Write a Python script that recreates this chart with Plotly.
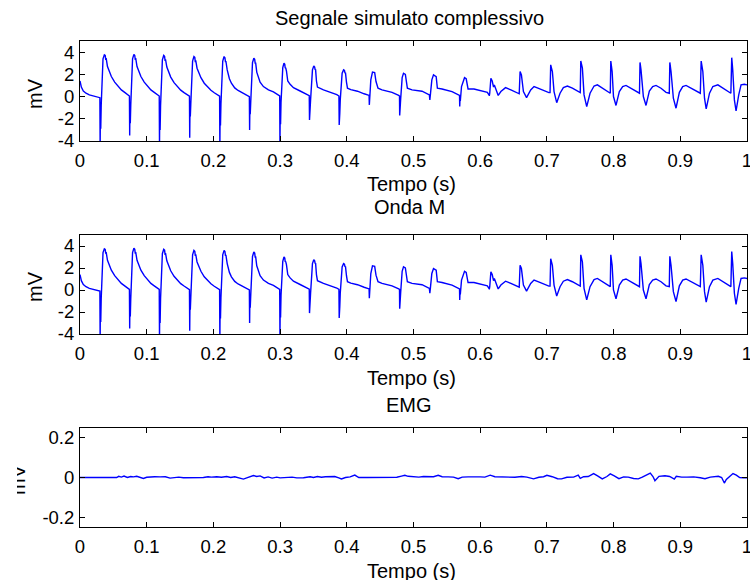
import plotly.graph_objects as go

# ---------------------------------------------------------------------------
# Simulated M wave (mV), polyline vertices, one beat per line
# ---------------------------------------------------------------------------
mwave_t = [
    0.0000, 0.0020, 0.0050, 0.0090, 0.0140, 0.0200, 0.0260, 0.0298,
    0.0302, 0.0306, 0.0311, 0.0318, 0.0345, 0.0365, 0.0378, 0.0386, 0.0392, 0.0412, 0.0445, 0.0470, 0.0520, 0.0570, 0.0620, 0.0670, 0.0720, 0.0741,
    0.0745, 0.0749, 0.0754, 0.0761, 0.0788, 0.0808, 0.0821, 0.0829, 0.0835, 0.0855, 0.0888, 0.0913, 0.0963, 0.1013, 0.1063, 0.1113, 0.1163, 0.1188,
    0.1192, 0.1196, 0.1201, 0.1208, 0.1235, 0.1255, 0.1268, 0.1276, 0.1282, 0.1302, 0.1335, 0.1360, 0.1410, 0.1460, 0.1510, 0.1560, 0.1610, 0.1641,
    0.1645, 0.1649, 0.1654, 0.1661, 0.1688, 0.1708, 0.1721, 0.1729, 0.1735, 0.1755, 0.1788, 0.1813, 0.1863, 0.1913, 0.1963, 0.2013, 0.2063, 0.2093,
    0.2097, 0.2101, 0.2106, 0.2113, 0.2140, 0.2160, 0.2173, 0.2181, 0.2187, 0.2207, 0.2240, 0.2270, 0.2320, 0.2370, 0.2420, 0.2470, 0.2515, 0.2539,
    0.2543, 0.2547, 0.2552, 0.2559, 0.2586, 0.2606, 0.2619, 0.2627, 0.2633, 0.2650, 0.2700, 0.2750, 0.2825, 0.2900, 0.2960, 0.2994,
    0.2998, 0.3002, 0.3007, 0.3014, 0.3040, 0.3058, 0.3070, 0.3077, 0.3083, 0.3095, 0.3115, 0.3150, 0.3200, 0.3300, 0.3400, 0.3437,
    0.3441, 0.3445, 0.3450, 0.3457, 0.3485, 0.3505, 0.3518, 0.3526, 0.3532, 0.3545, 0.3560, 0.3650, 0.3750, 0.3850, 0.3882,
    0.3886, 0.3890, 0.3895, 0.3902, 0.3930, 0.3952, 0.3965, 0.3973, 0.3980, 0.3995, 0.4010, 0.4060, 0.4160, 0.4260, 0.4320, 0.4334,
    0.4338, 0.4343, 0.4348, 0.4360, 0.4385, 0.4418, 0.4438, 0.4468, 0.4528, 0.4678, 0.4778, 0.4790,
    0.4793, 0.4797, 0.4801, 0.4808, 0.4830, 0.4850, 0.4878, 0.4908, 0.4978, 0.5128, 0.5238,
    0.5245, 0.5252, 0.5275, 0.5300, 0.5340, 0.5358, 0.5428, 0.5578, 0.5678, 0.5690,
    0.5693, 0.5698, 0.5702, 0.5720, 0.5765, 0.5790, 0.5818, 0.5907, 0.6107, 0.6135,
    0.6138, 0.6143, 0.6160, 0.6180, 0.6200, 0.6212, 0.6245, 0.6270, 0.6310, 0.6380, 0.6460, 0.6530, 0.6575,
    0.6585, 0.6598, 0.6618, 0.6648, 0.6695, 0.6757, 0.6807, 0.6857, 0.6957, 0.7030,
    0.7047, 0.7057, 0.7082, 0.7107, 0.7147, 0.7197, 0.7247, 0.7307, 0.7382, 0.7457, 0.7495,
    0.7500, 0.7508, 0.7532, 0.7557, 0.7597, 0.7647, 0.7707, 0.7757, 0.7832, 0.7910, 0.7945,
    0.7950, 0.7958, 0.7978, 0.7998, 0.8036, 0.8086, 0.8136, 0.8186, 0.8261, 0.8336, 0.8385,
    0.8388, 0.8396, 0.8411, 0.8446, 0.8486, 0.8536, 0.8586, 0.8636, 0.8711, 0.8786, 0.8830,
    0.8835, 0.8843, 0.8861, 0.8896, 0.8936, 0.8986, 0.9036, 0.9086, 0.9161, 0.9236, 0.9290,
    0.9300, 0.9313, 0.9338, 0.9363, 0.9388, 0.9438, 0.9488, 0.9563, 0.9638, 0.9713, 0.9750,
    0.9758, 0.9771, 0.9786, 0.9811, 0.9836, 0.9876, 0.9911, 0.9961, 1.0000,
]
mwave_mv = [
    1.40, 0.85, 0.50, 0.30, 0.15, 0.05, -0.05, -0.10,
    -4.50, -1.00, -2.90, -0.80, 3.40, 3.75, 3.70, 3.30, 3.45, 2.70, 2.20, 1.80, 1.30, 0.90, 0.60, 0.38, 0.18, 0.05,
    -3.50, -1.00, -2.40, -0.80, 3.40, 3.80, 3.70, 3.30, 3.45, 2.70, 2.20, 1.80, 1.30, 0.90, 0.60, 0.38, 0.18, 0.05,
    -4.50, -1.00, -3.00, -0.80, 3.30, 3.70, 3.62, 3.20, 3.35, 2.65, 2.15, 1.75, 1.25, 0.88, 0.58, 0.36, 0.16, 0.04,
    -3.70, -1.00, -1.80, -0.70, 3.20, 3.60, 3.52, 3.10, 3.25, 2.55, 2.05, 1.70, 1.20, 0.85, 0.56, 0.34, 0.15, 0.03,
    -4.50, -1.00, -2.60, -0.70, 3.20, 3.60, 3.50, 3.10, 3.20, 2.40, 1.60, 1.20, 0.78, 0.55, 0.38, 0.20, 0.05, 0.00,
    -3.00, -0.90, -1.60, -0.60, 3.05, 3.45, 3.35, 2.95, 3.05, 2.20, 1.30, 0.90, 0.60, 0.42, 0.18, 0.05,
    -4.50, -0.90, -2.50, -0.50, 2.60, 3.00, 2.90, 2.55, 2.60, 2.30, 1.40, 1.10, 0.80, 0.50, 0.20, 0.08,
    -2.10, -0.60, -1.20, -0.30, 2.40, 2.75, 2.65, 2.40, 2.45, 1.40, 0.85, 0.60, 0.40, 0.18, 0.05,
    -2.55, -0.60, -1.50, -0.30, 2.10, 2.40, 2.35, 2.10, 2.15, 1.30, 0.75, 0.62, 0.48, 0.25, 0.12, 0.10,
    -0.75, -0.20, -0.40, 1.50, 2.20, 2.15, 1.35, 0.75, 0.60, 0.38, 0.10, 0.05,
    -1.70, -0.40, -1.20, -0.20, 1.70, 2.10, 2.00, 0.75, 0.60, 0.48, 0.15,
    -0.30, 0.10, 1.50, 1.95, 1.80, 0.75, 0.68, 0.45, 0.15, 0.10,
    -0.90, -0.10, -0.40, 0.90, 1.70, 1.60, 0.68, 0.68, 0.38, 0.12,
    0.12, 0.30, 1.65, 1.40, 0.85, 1.05, 0.45, 0.10, 0.45, 0.80, 0.60, 0.38, 0.25,
    0.25, 2.25, 1.95, 0.45, -0.10, 0.60, 0.90, 0.78, 0.50, 0.35,
    0.35, 2.85, 2.25, 0.45, -0.55, 0.30, 0.80, 0.95, 0.75, 0.45, 0.35,
    0.35, 3.20, 2.55, 0.15, -0.90, 0.30, 0.95, 1.05, 0.75, 0.40, 0.30,
    0.30, 3.20, 2.25, 0.00, -0.80, 0.45, 0.90, 1.00, 0.75, 0.45, 0.30,
    0.30, 3.07, 2.40, 0.00, -0.80, 0.50, 0.90, 1.00, 0.75, 0.38, 0.30,
    0.30, 3.07, 2.25, -0.15, -1.05, 0.38, 0.90, 1.00, 0.75, 0.45, 0.30,
    0.30, 3.20, 2.25, -0.15, -1.10, 0.30, 0.90, 1.05, 0.75, 0.45, 0.30,
    0.30, 3.50, 2.40, -0.30, -1.30, 0.15, 1.05, 1.10, 1.05,
]

# ---------------------------------------------------------------------------
# Simulated EMG (mV), polyline vertices
# ---------------------------------------------------------------------------
emg_t = [
    0.000, 0.055, 0.058, 0.062, 0.066, 0.071, 0.076, 0.080, 0.085, 0.090,
    0.095, 0.100, 0.106, 0.112, 0.120, 0.128, 0.135, 0.142, 0.148, 0.155,
    0.170, 0.185, 0.192, 0.197, 0.205, 0.212, 0.220, 0.226, 0.232, 0.238,
    0.245, 0.250, 0.255, 0.260, 0.265, 0.270, 0.276, 0.282, 0.288, 0.295,
    0.300, 0.310, 0.318, 0.325, 0.335, 0.345, 0.350, 0.356, 0.362, 0.368,
    0.375, 0.382, 0.388, 0.392, 0.398, 0.405, 0.412, 0.418, 0.430, 0.445,
    0.455, 0.465, 0.475, 0.482, 0.487, 0.492, 0.500, 0.508, 0.515, 0.522,
    0.530, 0.537, 0.543, 0.552, 0.560, 0.567, 0.573, 0.582, 0.592, 0.600,
    0.607, 0.615, 0.622, 0.632, 0.642, 0.652, 0.662, 0.670, 0.680, 0.688,
    0.695, 0.700, 0.708, 0.716, 0.722, 0.730, 0.740, 0.747, 0.750, 0.755,
    0.762, 0.770, 0.776, 0.783, 0.790, 0.795, 0.801, 0.808, 0.815, 0.822,
    0.830, 0.837, 0.843, 0.850, 0.855, 0.859, 0.862, 0.868, 0.872, 0.877,
    0.884, 0.891, 0.894, 0.902, 0.910, 0.920, 0.930, 0.937, 0.945, 0.952,
    0.957, 0.962, 0.966, 0.969, 0.974, 0.979, 0.984, 0.989, 0.995, 1.000,
]
emg_mv = [
    0.000, 0.000, 0.006, 0.002, 0.007, 0.000, 0.005, 0.003, 0.006, 0.002,
    -0.005, 0.001, 0.003, 0.004, 0.003, 0.004, -0.003, -0.002, 0.002, -0.001,
    -0.001, 0.000, 0.004, 0.002, 0.004, 0.001, 0.005, 0.000, 0.004, -0.002,
    -0.008, -0.002, 0.006, 0.010, 0.005, 0.008, -0.002, 0.003, -0.003, 0.002,
    -0.002, -0.001, 0.002, -0.002, -0.001, 0.004, 0.000, 0.005, 0.001, 0.004,
    0.003, 0.005, -0.002, -0.007, 0.000, 0.003, 0.012, 0.000, 0.000, 0.001,
    0.000, 0.002, 0.001, 0.007, 0.011, 0.006, 0.004, 0.002, 0.005, 0.003,
    0.004, 0.011, 0.004, 0.003, 0.002, -0.006, 0.002, 0.003, 0.001, 0.003,
    0.002, 0.012, 0.004, 0.003, 0.004, 0.001, 0.005, 0.002, -0.007, 0.001,
    0.004, 0.011, 0.004, -0.006, -0.007, 0.001, 0.002, 0.012, -0.004, 0.004,
    0.005, 0.020, 0.008, -0.007, 0.005, 0.018, 0.008, -0.006, 0.003, 0.002,
    -0.005, -0.007, 0.002, 0.012, 0.022, 0.005, -0.016, 0.006, 0.006, 0.009,
    0.005, -0.008, 0.006, 0.002, 0.002, 0.003, -0.001, -0.006, 0.002, 0.006,
    0.006, 0.000, -0.028, -0.010, 0.006, 0.020, 0.012, 0.000, -0.001, -0.002,
]

# Panel titles, axis labels and ticks
panel_titles = ["Segnale simulato complessivo", "Onda M", "EMG"]
x_label = "Tempo (s)"
y_label = "mV"
x_ticks = [0, 0.1, 0.2, 0.3, 0.4, 0.5, 0.6, 0.7, 0.8, 0.9, 1]
x_ticktext = ["0", "0.1", "0.2", "0.3", "0.4", "0.5", "0.6", "0.7", "0.8", "0.9", "1"]
y_ticks_big = [-4, -2, 0, 2, 4]
y_ticktext_big = ["-4", "-2", "0", "2", "4"]
y_ticks_small = [-0.2, 0, 0.2]
y_ticktext_small = ["-0.2", "0", "0.2"]

# ---------------------------------------------------------------------------
W, H = 750, 580
ML, MR = 80, 3
FONT = "Liberation Sans, Arial, Helvetica, sans-serif"
BLUE = "#0000ff"
TICK_SIZE = 18.5
LABEL_SIZE = 20


def py(pix):
    """Pixel row (from top) -> paper y."""
    return (H - pix) / H


def px(pix):
    """Pixel column (from left) -> paper x."""
    return (pix - ML) / (W - ML - MR)


# Plot-area rows in pixels (top, bottom) for the three panels
rows = [(41, 141), (235, 334), (428, 527)]

axis_common = dict(
    showline=True, linecolor="black", linewidth=1, mirror="ticks",
    ticks="inside", ticklen=5, tickwidth=1, tickcolor="black",
    showgrid=False, zeroline=False, automargin=False,
    ticklabeloverflow="allow",
    tickfont=dict(family=FONT, size=TICK_SIZE, color="black"),
)

fig = go.Figure()

# Composite signal: the EMG adds far less than a pixel here, so the M-wave
# vertices are drawn for it as well.
fig.add_trace(go.Scatter(x=mwave_t, y=mwave_mv, mode="lines",
                         line=dict(color=BLUE, width=1.4),
                         xaxis="x", yaxis="y", showlegend=False))
fig.add_trace(go.Scatter(x=mwave_t, y=mwave_mv, mode="lines",
                         line=dict(color=BLUE, width=1.4),
                         xaxis="x2", yaxis="y2", showlegend=False))
fig.add_trace(go.Scatter(x=emg_t, y=emg_mv, mode="lines",
                         line=dict(color=BLUE, width=1.4),
                         xaxis="x3", yaxis="y3", showlegend=False))

layout = dict(
    template="none",
    width=W, height=H,
    margin=dict(l=ML, r=MR, t=0, b=0, pad=0, autoexpand=False),
    paper_bgcolor="white", plot_bgcolor="white",
    font=dict(family=FONT, color="black"),
    showlegend=False,
)

for i, (top, bot) in enumerate(rows):
    sfx = "" if i == 0 else str(i + 1)
    dom = [py(bot), py(top)]
    layout["xaxis" + sfx] = dict(
        axis_common, domain=[0, 1], range=[0, 1], anchor="y" + sfx,
        tickvals=x_ticks, ticktext=x_ticktext, ticklabelstandoff=3,
    )
    if i < 2:
        yextra = dict(range=[-4, 5], tickvals=y_ticks_big, ticktext=y_ticktext_big)
    else:
        yextra = dict(range=[-0.25, 0.25], tickvals=y_ticks_small, ticktext=y_ticktext_small)
    layout["yaxis" + sfx] = dict(
        axis_common, domain=dom, anchor="x" + sfx, ticklabelstandoff=1, **yextra
    )

annotations = []
title_rows = [18, 207, 405]
xlabel_rows = [184, 378, 571]
ylabel_pos = [(35, 94), (35, 287), (18, 480)]
for i in range(3):
    annotations.append(dict(
        text=panel_titles[i], xref="paper", yref="paper",
        x=px(409), y=py(title_rows[i]), xanchor="center", yanchor="middle",
        showarrow=False, font=dict(family=FONT, size=LABEL_SIZE, color="black"),
    ))
    annotations.append(dict(
        text=x_label, xref="paper", yref="paper",
        x=px(411), y=py(xlabel_rows[i]), xanchor="center", yanchor="middle",
        showarrow=False, font=dict(family=FONT, size=LABEL_SIZE, color="black"),
    ))
    annotations.append(dict(
        text=y_label, xref="paper", yref="paper", textangle=-90,
        x=px(ylabel_pos[i][0]), y=py(ylabel_pos[i][1]),
        xanchor="center", yanchor="middle",
        showarrow=False, font=dict(family=FONT, size=LABEL_SIZE, color="black"),
    ))

# The lower panel's y label is cut along its left side
annotations.append(dict(
    text=" ", xref="paper", yref="paper",
    x=px(8), y=py(480), xanchor="center", yanchor="middle",
    width=18, height=40, bgcolor="white", borderpad=0, borderwidth=0,
    showarrow=False,
))

layout["annotations"] = annotations
fig.update_layout(**layout)

fig.write_html("out.html")
